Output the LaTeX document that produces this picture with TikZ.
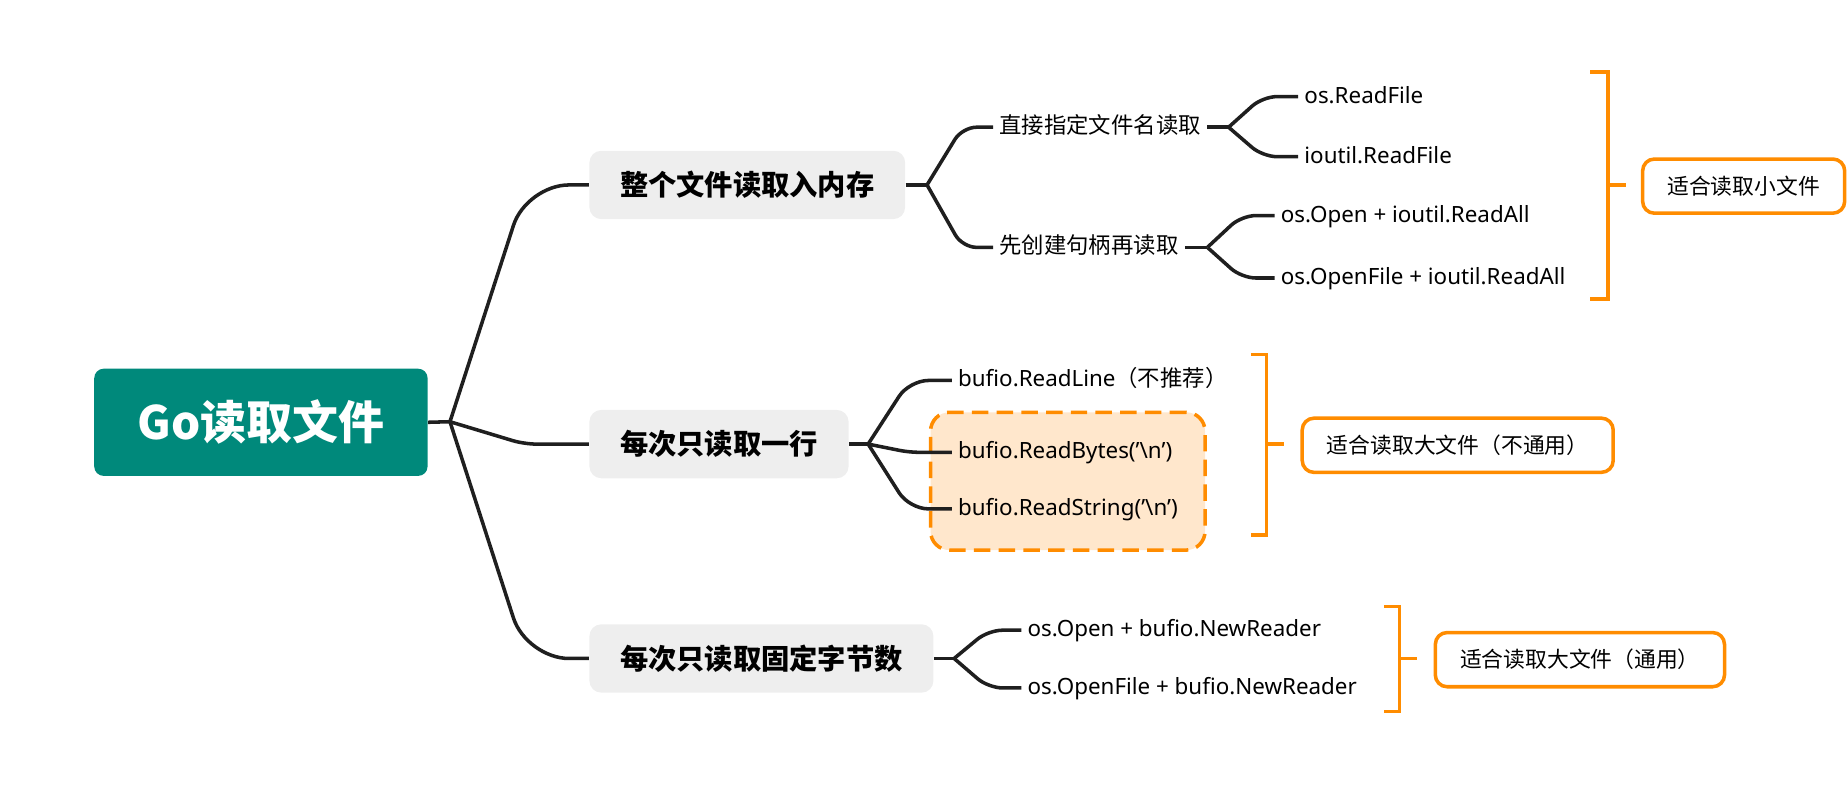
\documentclass[tikz,border=0pt]{standalone}
\usepackage{fontspec}
\setmainfont{Noto Sans}[Ligatures=ResetAll]
\newfontfamily\cjk{Noto Sans CJK SC}
\usetikzlibrary{calc}
\definecolor{rootgreen}{RGB}{0,137,123}
\definecolor{topicgray}{RGB}{238,238,238}
\definecolor{noteorange}{RGB}{255,140,0}
\definecolor{notefill}{RGB}{255,231,204}

\begin{document}
\begin{tikzpicture}[x=0.5pt,y=-0.5pt,
		link/.style={line width=1.5pt, black!88, rounded corners=#1},
		link/.default=6pt,
		root/.style={fill=rootgreen, rounded corners=4pt, text=white, font=\fontsize{19.5}{24}\selectfont\bfseries\cjk, minimum width=141.5pt, minimum height=45.5pt},
		topic/.style={fill=topicgray, rounded corners=5pt, anchor=west, font=\fontsize{12}{14}\selectfont\bfseries\cjk, inner xsep=13pt, minimum height=29pt},
		leaf/.style={anchor=west, inner xsep=2.5pt, inner ysep=0pt, text height=7.5pt, text depth=2pt, font=\fontsize{9.5}{11}\selectfont},
		bracket/.style={line width=1.5pt, noteorange},
		note/.style={draw=noteorange, line width=1.5pt, rounded corners=5pt, anchor=west, font=\fontsize{9.25}{11}\selectfont\cjk, inner xsep=10.5pt, minimum height=23pt},
		highlight/.style={draw=noteorange, fill=notefill, line width=1.5pt, dash pattern=on 7pt off 3.5pt, rounded corners=8pt}]
	\useasboundingbox (0,0) rectangle (1568,686);

	% root and main topics
	\node [root] (root) at (221.5,358.5) {Go读取文件};
	\node [topic] (whole) at (500,157) {整个文件读取入内存};
	\node [topic] (line) at (500,377) {每次只读取一行};
	\node [topic] (chunk) at (500,559) {每次只读取固定字节数};

	% highlighted group behind the line readers
	\node [highlight, minimum width=116.5pt, minimum height=58.5pt] (hl) at (906.5,408.5) {};

	% leaves
	\node [leaf] (byname) at (843,108) {\cjk 直接指定文件名读取};
	\node [leaf] (byhandle) at (843,210) {\cjk 先创建句柄再读取};
	\node [leaf] (osread) at (1102,82) {os.ReadFile};
	\node [leaf] (ioread) at (1102,133) {ioutil.ReadFile};
	\node [leaf] (openall) at (1082,183) {os.Open + ioutil.ReadAll};
	\node [leaf] (openfileall) at (1082,236) {os.OpenFile + ioutil.ReadAll};
	\node [leaf] (readline) at (808,323) {bufio.ReadLine{\cjk （不推荐）}};
	\node [leaf] (readbytes) at (808,384) {bufio.ReadBytes('\textbackslash n')};
	\node [leaf] (readstring) at (808,432) {bufio.ReadString('\textbackslash n')};
	\node [leaf] (openreader) at (867,535) {os.Open + bufio.NewReader};
	\node [leaf] (openfilereader) at (867,584) {os.OpenFile + bufio.NewReader};

	% forks
	\coordinate (rootfork) at (382,358);
	\coordinate (wholefork) at (787,157);
	\coordinate (namefork) at (1043,108);
	\coordinate (handlefork) at (1025,210);
	\coordinate (linefork) at (737,377);
	\coordinate (chunkfork) at (810,559);

	% connectors
	\draw [link] (root.east) -- (rootfork);
	\draw [link=18pt] (rootfork) -- ($(whole.west)+(-53,0)$) -- (whole.west);
	\draw [link=5pt] (rootfork) -- ($(line.west)+(-55,0)$) -- (line.west);
	\draw [link=18pt] (rootfork) -- ($(chunk.west)+(-53,0)$) -- (chunk.west);

	\draw [link] (whole.east) -- (wholefork);
	\draw [link] (wholefork) -- ($(byname.west)+(-26,0)$) -- (byname.west);
	\draw [link] (wholefork) -- ($(byhandle.west)+(-26,0)$) -- (byhandle.west);

	\draw [link] (byname.east) -- (namefork);
	\draw [link] (namefork) -- ($(osread.west)+(-30,0)$) -- (osread.west);
	\draw [link] (namefork) -- ($(ioread.west)+(-30,0)$) -- (ioread.west);

	\draw [link] (byhandle.east) -- (handlefork);
	\draw [link] (handlefork) -- ($(openall.west)+(-28,0)$) -- (openall.west);
	\draw [link] (handlefork) -- ($(openfileall.west)+(-28,0)$) -- (openfileall.west);

	\draw [link] (line.east) -- (linefork);
	\draw [link=8pt] (linefork) -- ($(readline.west)+(-36,0)$) -- (readline.west);
	\draw [link=4pt] (linefork) -- ($(readbytes.west)+(-36,0)$) -- (readbytes.west);
	\draw [link=8pt] (linefork) -- ($(readstring.west)+(-36,0)$) -- (readstring.west);

	\draw [link] (chunk.east) -- (chunkfork);
	\draw [link] (chunkfork) -- ($(openreader.west)+(-28,0)$) -- (openreader.west);
	\draw [link] (chunkfork) -- ($(openfilereader.west)+(-28,0)$) -- (openfilereader.west);

	% brackets and notes
	\coordinate (smallmid) at (1365,157);
	\coordinate (bigmid) at (1075,377);
	\coordinate (generalmid) at (1188,559);
	\draw [bracket] (1350,61) -- (1365,61) -- (1365,254) -- (1350,254);
	\draw [bracket] (1062,301) -- (1075,301) -- (1075,454) -- (1062,454);
	\draw [bracket] (1175,515) -- (1188,515) -- (1188,604) -- (1175,604);
	\node [note] (smallnote) at (1393,158) {适合读取小文件};
	\node [note] (bignote) at (1104,378) {适合读取大文件（不通用）};
	\node [note] (generalnote) at (1217,560) {适合读取大文件（通用）};
	\draw [bracket] (smallmid) -- ++(15,0);
	\draw [bracket] (bigmid) -- ++(15,0);
	\draw [bracket] (generalmid) -- ++(15,0);
\end{tikzpicture}
\end{document}
